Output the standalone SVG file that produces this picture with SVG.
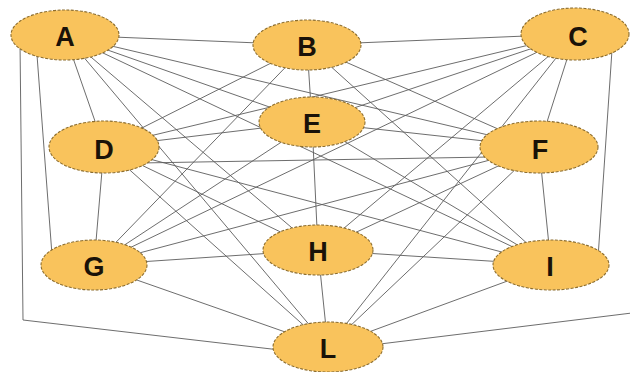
<svg xmlns="http://www.w3.org/2000/svg" width="630" height="372" viewBox="0 0 630 372">
<style>
.e line,.e polyline{stroke:#5c5c5c;stroke-width:0.9;fill:none}
.n ellipse{fill:#F9C35C;stroke:#8c6d2e;stroke-width:1.1;stroke-dasharray:3 1.5}
.n text{font-family:"Liberation Sans",Arial,sans-serif;font-weight:bold;font-size:27px;fill:#1a1208;text-anchor:middle}
</style>
<rect width="630" height="372" fill="#ffffff"/>
<g id="connectors" class="e">
<line x1="65" y1="35" x2="307" y2="45"/>
<line x1="65" y1="35" x2="104" y2="147"/>
<line x1="65" y1="35" x2="312" y2="122"/>
<line x1="65" y1="35" x2="539" y2="147"/>
<line x1="65" y1="35" x2="318" y2="250"/>
<line x1="65" y1="35" x2="551" y2="265"/>
<line x1="65" y1="35" x2="328" y2="347"/>
<line x1="37" y1="55" x2="52" y2="255"/>
<polyline points="20,42 23,320 280,350"/>
<line x1="307" y1="45" x2="575" y2="34"/>
<line x1="307" y1="45" x2="104" y2="147"/>
<line x1="307" y1="45" x2="312" y2="122"/>
<line x1="307" y1="45" x2="539" y2="147"/>
<line x1="307" y1="45" x2="94" y2="265"/>
<line x1="307" y1="45" x2="551" y2="265"/>
<line x1="575" y1="34" x2="104" y2="147"/>
<line x1="575" y1="34" x2="312" y2="122"/>
<line x1="575" y1="34" x2="539" y2="147"/>
<line x1="575" y1="34" x2="94" y2="265"/>
<line x1="575" y1="34" x2="318" y2="250"/>
<line x1="575" y1="34" x2="328" y2="347"/>
<line x1="612" y1="50" x2="598" y2="258"/>
<polyline points="380,344 632,313"/>
<line x1="104" y1="147" x2="312" y2="122"/>
<line x1="104" y1="147" x2="94" y2="265"/>
<line x1="104" y1="147" x2="318" y2="250"/>
<line x1="104" y1="147" x2="551" y2="265"/>
<line x1="104" y1="147" x2="328" y2="347"/>
<line x1="140" y1="163" x2="490" y2="157"/>
<line x1="312" y1="122" x2="539" y2="147"/>
<line x1="312" y1="122" x2="94" y2="265"/>
<line x1="312" y1="122" x2="318" y2="250"/>
<line x1="312" y1="122" x2="551" y2="265"/>
<line x1="539" y1="147" x2="94" y2="265"/>
<line x1="539" y1="147" x2="318" y2="250"/>
<line x1="539" y1="147" x2="551" y2="265"/>
<line x1="539" y1="147" x2="328" y2="347"/>
<line x1="94" y1="265" x2="318" y2="250"/>
<line x1="94" y1="265" x2="328" y2="347"/>
<line x1="318" y1="250" x2="551" y2="265"/>
<line x1="318" y1="250" x2="328" y2="347"/>
<line x1="551" y1="265" x2="328" y2="347"/>
</g>
<g id="A" class="n"><ellipse cx="65" cy="35" rx="54" ry="25"/><text x="65" y="46">A</text></g>
<g id="B" class="n"><ellipse cx="307" cy="45" rx="54" ry="25"/><text x="307" y="56">B</text></g>
<g id="C" class="n"><ellipse cx="575" cy="34" rx="54" ry="26"/><text x="578" y="46">C</text></g>
<g id="D" class="n"><ellipse cx="104" cy="147" rx="55" ry="26"/><text x="104" y="159">D</text></g>
<g id="E" class="n"><ellipse cx="312" cy="122" rx="53" ry="25"/><text x="312" y="133">E</text></g>
<g id="F" class="n"><ellipse cx="539" cy="147" rx="59" ry="26"/><text x="540" y="159">F</text></g>
<g id="G" class="n"><ellipse cx="94" cy="265" rx="53" ry="25"/><text x="94" y="276">G</text></g>
<g id="H" class="n"><ellipse cx="318" cy="250" rx="55" ry="25"/><text x="318" y="261">H</text></g>
<g id="I" class="n"><ellipse cx="551" cy="265" rx="58" ry="25"/><text x="550" y="276">I</text></g>
<g id="L" class="n"><ellipse cx="328" cy="347" rx="55" ry="25"/><text x="328" y="358">L</text></g>
</svg>
